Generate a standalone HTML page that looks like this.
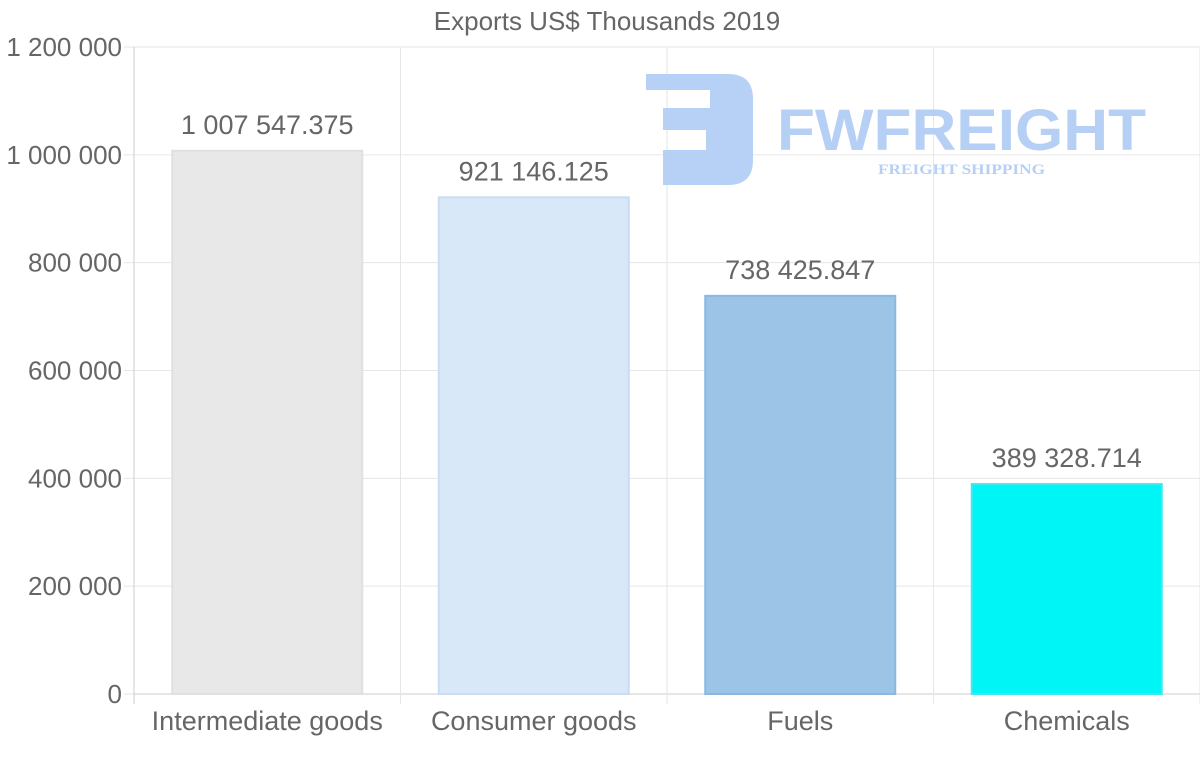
<!DOCTYPE html>
<html><head><meta charset="utf-8"><style>
body{margin:0;background:#fff;width:1200px;height:763px;overflow:hidden}
svg{display:block;font-family:"Liberation Sans",sans-serif}
</style></head><body>
<svg id="chart" width="1200" height="763">
<text x="607" y="30" text-anchor="middle" font-size="26" fill="#666">Exports US$ Thousands 2019</text>
<g id="grid"></g>
<g id="bars"></g>
<g opacity="0.95">
<path d="M646 74 H728 Q753 74 753 99 V160 Q753 185 728 185 H663 V150 H706 V130 H663 V108 H710 V90 H646 Z" fill="#b3cdf4"/>
<text x="777" y="150" font-size="58" font-weight="bold" fill="#b3cdf4" textLength="369" lengthAdjust="spacingAndGlyphs">FWFREIGHT</text>
<text x="878" y="174" font-size="15" font-weight="bold" font-family="Liberation Serif,serif" fill="#b3cdf4" textLength="167" lengthAdjust="spacingAndGlyphs">FREIGHT SHIPPING</text>
</g>
<g id="labels"></g>
</svg>
<script>
const categories=["Intermediate goods","Consumer goods","Fuels","Chemicals"];
const values=[1007547.375,921146.125,738425.847,389328.714];
const valueLabels=["1 007 547.375","921 146.125","738 425.847","389 328.714"];
const yTicks=[0,200000,400000,600000,800000,1000000,1200000];
const yTickLabels=["0","200 000","400 000","600 000","800 000","1 000 000","1 200 000"];
const fills=["#e8e8e8","#d9e8f9","#9bc4e6","#00f6f6"];
const strokes=["#e0e0e0","#c9dcf3","#8ab8e0","#3ee8f0"];
const NS="http://www.w3.org/2000/svg";
const L=134,R=1200,T=47,B=694,yMax=1200000;
const y=v=>B-(v/yMax)*(B-T);
const bw=(R-L)/categories.length;
const x=i=>L+bw*i;
function mk(tag,a,p){const e=document.createElementNS(NS,tag);for(const k in a)e.setAttribute(k,a[k]);p.appendChild(e);return e;}
const g=document.getElementById('grid'),b=document.getElementById('bars'),lb=document.getElementById('labels');
yTicks.forEach((t,i)=>{
 const ln=mk('line',{x1:L,x2:R,y1:y(t),y2:y(t),stroke:i==0?'#ccc':'#e6e6e6'},g);
 
 
 mk('line',{x1:L-10,x2:L,y1:y(t),y2:y(t),stroke:'#e6e6e6'},g);
 const tx=mk('text',{x:122,y:y(t)+9,'text-anchor':'end','font-size':26,fill:'#666'},g);
 tx.textContent=yTickLabels[i];
 
 
});
for(let i=0;i<=categories.length;i++){
 mk('line',{x1:x(i),x2:x(i),y1:T,y2:B+10,stroke:i==0?'#ccc':'#e6e6e6'},g);
}
categories.forEach((c,i)=>{
 const cx=x(i)+bw/2,w=190;
 const r=mk('rect',{x:cx-w/2,y:y(values[i]),width:w,height:B-y(values[i]),fill:fills[i],stroke:strokes[i],'stroke-width':2},b);
 
 
 const vt=mk('text',{x:cx,y:y(values[i])-17,'text-anchor':'middle','font-size':27,fill:'#666'},lb);
 vt.textContent=valueLabels[i];
 
 
 const ct=mk('text',{x:cx,y:730,'text-anchor':'middle','font-size':27,fill:'#666'},lb);
 ct.textContent=c;
 
 
});
</script>
</body></html>
